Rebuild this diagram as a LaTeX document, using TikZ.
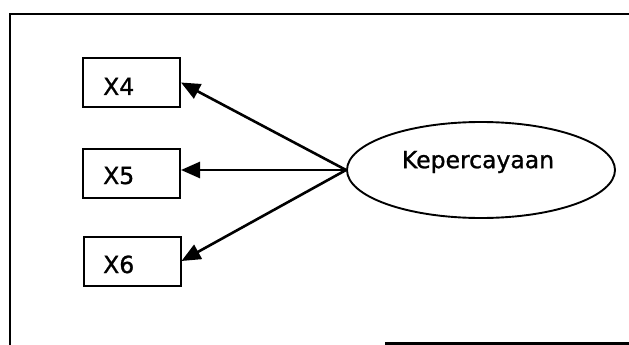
\documentclass[tikz,border=0pt]{standalone}
\usepackage{fontspec}
\setmainfont{DejaVu Sans}[FakeBold=1.1]
\usetikzlibrary{arrows.meta,shapes.geometric}
\begin{document}
\begin{tikzpicture}[x=1pt,y=-1pt,
  frame/.style={line width=2.6pt},
  indicator/.style={draw,line width=2pt,minimum width=97pt,minimum height=49pt,inner sep=0pt},
  lbl/.style={inner sep=0pt,font=\fontsize{23.5}{27}\selectfont},
  latent/.style={draw,ellipse,line width=1.9pt,minimum width=268pt,minimum height=96pt,inner sep=0pt},
  loading/.style={line width=2.6pt,-{Triangle[length=19pt,width=16pt]}}]
  \useasboundingbox (0,0) rectangle (629,345);

  % outer frame (open on the right)
  \draw[frame] (10,345) -- (10,14) -- (629,14);
  \draw[frame] (385,343.5) -- (629,343.5);

  % indicator boxes
  \node[indicator] (x4) at (131.5,82.5) {};
  \node[indicator] (x5) at (131.5,173.5) {};
  \node[indicator] (x6) at (132,261) {};
  \node[lbl,anchor=base west] (x4t) at (103,95) {X4};
  \node[lbl,anchor=base west] (x5t) at (103,184) {X5};
  \node[lbl,anchor=base west] (x6t) at (103,273) {X6};

  % latent construct
  \node[latent] (k) at (481,170) {};
  \node[lbl] (kt) at (478,162) {Kepercayaan};

  % loadings
  \draw[loading] (k.west) -- (x4.east);
  \draw[loading] (k.west) -- (x5.east |- k.west);
  \draw[loading] (k.west) -- (x6.east);
\end{tikzpicture}
\end{document}
